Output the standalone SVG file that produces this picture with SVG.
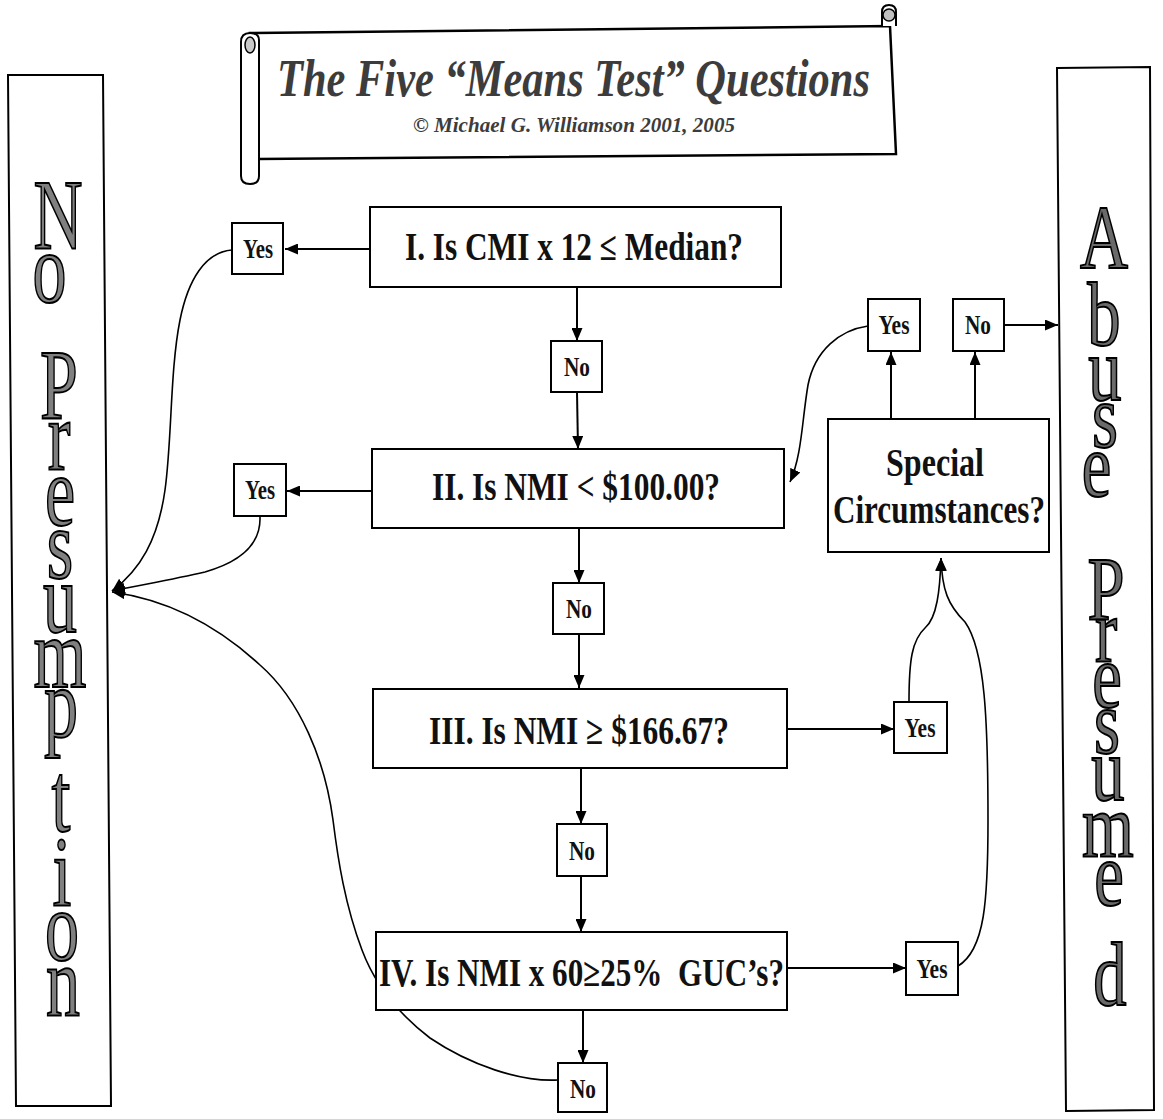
<svg xmlns="http://www.w3.org/2000/svg" width="1163" height="1119" viewBox="0 0 1163 1119">
<defs>
<marker id="ah" markerUnits="userSpaceOnUse" markerWidth="13" markerHeight="11" refX="13" refY="5.5" orient="auto">
<path d="M0,0 L13,5.5 L0,11 z" fill="#000"/>
</marker>
<style>
.box{fill:#fff;stroke:#000;stroke-width:2}
.q{font-family:"Liberation Serif","Times New Roman",serif;font-weight:bold;font-size:40px;fill:#111}
.lbl{font-family:"Liberation Serif","Times New Roman",serif;font-size:28px;fill:#111;text-anchor:middle;font-weight:bold}
.big{font-family:"Liberation Serif","Times New Roman",serif;font-size:100px;fill:#808080;stroke:#000;stroke-width:2;text-anchor:middle}
.bigr{font-family:"Liberation Serif","Times New Roman",serif;font-size:90px;fill:#6a6a6a;stroke:#000;stroke-width:2;text-anchor:middle}
.ln{fill:none;stroke:#000;stroke-width:2}
.cv{fill:none;stroke:#000;stroke-width:1.6}
.ttl{font-family:"Liberation Serif","Times New Roman",serif;font-weight:bold;font-style:italic;fill:#3c3c3c}
</style>
</defs>
<rect width="1163" height="1119" fill="#fff"/>

<g id="connectors">
<path class="ln" d="M372,249 L285,249" marker-end="url(#ah)"/>
<path class="ln" d="M372,491 L287,491" marker-end="url(#ah)"/>
<path class="ln" d="M577,287 L577,341" marker-end="url(#ah)"/>
<path class="ln" d="M577,392 L578,449" marker-end="url(#ah)"/>
<path class="ln" d="M579,528 L579,583" marker-end="url(#ah)"/>
<path class="ln" d="M579,634 L579,688" marker-end="url(#ah)"/>
<path class="ln" d="M581,768 L581,824" marker-end="url(#ah)"/>
<path class="ln" d="M581,876 L581,932" marker-end="url(#ah)"/>
<path class="ln" d="M583,1010 L583,1063" marker-end="url(#ah)"/>
<path class="ln" d="M788,729 L894,729" marker-end="url(#ah)"/>
<path class="ln" d="M787,968 L906,968" marker-end="url(#ah)"/>
<path class="ln" d="M891,419 L891,352" marker-end="url(#ah)"/>
<path class="ln" d="M975,419 L975,352" marker-end="url(#ah)"/>
<path class="ln" d="M1004,325 L1058,325" marker-end="url(#ah)"/>
<path class="cv" d="M232,250 C205,252 188,280 180,320 C170,370 172,440 165,490 C158,540 140,570 112,591" marker-end="url(#ah)"/>
<path class="cv" d="M260,517 C261,545 240,562 205,572 C170,580 140,585 112,591" marker-end="url(#ah)"/>
<path class="cv" d="M558,1080 C520,1082 470,1065 430,1038 C400,1015 375,985 362,950 C345,905 338,860 333,820 C325,760 300,700 260,665 C220,628 170,600 112,592" marker-end="url(#ah)"/>
<path class="cv" d="M868,326 C840,330 815,350 808,385 C802,420 802,455 790,482" marker-end="url(#ah)"/>
<path class="cv" d="M909,702 C909,660 912,640 925,628 C937,618 940,590 941,558" marker-end="url(#ah)"/>
<path class="cv" d="M958,966 C985,950 988,900 988,820 C988,720 985,650 965,622 C948,605 942,590 941,558" marker-end="url(#ah)"/>
</g>

<g id="banner">
<polygon points="250,33 890,26 896,154 258,159" fill="#fff" stroke="#000" stroke-width="2.5"/>
<path d="M259,40 L259,176 Q259,184 250,184 Q241,184 241,176 L241,42 Q241,33 250,33 Q259,33 259,40 Z" fill="#fff" stroke="#000" stroke-width="2"/>
<ellipse cx="250" cy="45" rx="5" ry="8" fill="#c8c8c8" stroke="#000" stroke-width="1.5"/>
<path d="M882,26 L882,12 Q882,5 889,5 Q896,5 896,12 L896,26" fill="#fff" stroke="#000" stroke-width="2"/>
<circle cx="889" cy="15" r="6" fill="#c0c0c0" stroke="#000" stroke-width="1.5"/>
<text class="ttl" x="277" y="96" font-size="52" textLength="593" lengthAdjust="spacingAndGlyphs">The Five “Means Test” Questions</text>
<text class="ttl" x="413" y="132" font-size="21" textLength="322" lengthAdjust="spacingAndGlyphs" fill="#111">© Michael G. Williamson 2001, 2005</text>
</g>

<g id="no-presumption">
<polygon points="8,75 103,75 111,1106 16,1106" fill="#fff" stroke="#000" stroke-width="2"/>
<text class="big" transform="scale(0.68,1)"><tspan x="85.3" y="248">N</tspan><tspan x="85.3" y="302">o</tspan> <tspan x="86.8" y="418">P</tspan><tspan x="86.8" y="470">r</tspan><tspan x="88.2" y="525">e</tspan><tspan x="88.2" y="578">s</tspan><tspan x="88.2" y="632">u</tspan><tspan x="88.2" y="687">m</tspan><tspan x="89.7" y="737">p</tspan><tspan x="89.7" y="831">t</tspan><tspan x="91.2" y="905">i</tspan><tspan x="91.2" y="960">o</tspan><tspan x="92.6" y="1015">n</tspan></text>
</g>

<g id="abuse-presumed">
<polygon points="1057,68 1150,67 1154,1110 1066,1111" fill="#fff" stroke="#000" stroke-width="2"/>
<text class="bigr" transform="scale(0.74,1)"><tspan x="1491.9" y="268">A</tspan><tspan x="1491.9" y="345">b</tspan><tspan x="1493.2" y="400">u</tspan><tspan x="1493.2" y="447">s</tspan><tspan x="1493.2" y="496">e</tspan> <tspan x="1494.6" y="620">P</tspan><tspan x="1494.6" y="662">r</tspan><tspan x="1495.9" y="707">e</tspan><tspan x="1495.9" y="753">s</tspan><tspan x="1497.3" y="800">u</tspan><tspan x="1497.3" y="857">m</tspan><tspan x="1498.6" y="905">e</tspan><tspan x="1500" y="1005">d</tspan></text>
</g>

<g id="q1">
<rect class="box" x="370" y="207" width="411" height="80"/>
<text class="q" x="405" y="260" textLength="338" lengthAdjust="spacingAndGlyphs">I. Is CMI x 12 ≤ Median?</text>
</g>
<g id="q2">
<rect class="box" x="372" y="449" width="412" height="79"/>
<text class="q" x="432" y="500" textLength="288" lengthAdjust="spacingAndGlyphs">II. Is NMI &lt; $100.00?</text>
</g>
<g id="q3">
<rect class="box" x="373" y="689" width="414" height="79"/>
<text class="q" x="429" y="744" textLength="300" lengthAdjust="spacingAndGlyphs">III. Is NMI ≥ $166.67?</text>
</g>
<g id="q4">
<rect class="box" x="376" y="932" width="411" height="78"/>
<text class="q" x="379" y="986" textLength="405" lengthAdjust="spacingAndGlyphs" xml:space="preserve">IV. Is NMI x 60≥25%  GUC’s?</text>
</g>
<g id="special">
<rect class="box" x="828" y="419" width="221" height="133"/>
<text class="q" x="935" y="476" font-size="35" text-anchor="middle" textLength="98" lengthAdjust="spacingAndGlyphs">Special</text>
<text class="q" x="833" y="523" font-size="35" textLength="212" lengthAdjust="spacingAndGlyphs">Circumstances?</text>
</g>

<g id="yes1"><rect class="box" x="232" y="223" width="51" height="51"/><text class="lbl" x="258" y="258" textLength="30" lengthAdjust="spacingAndGlyphs">Yes</text></g>
<g id="yes2"><rect class="box" x="234" y="464" width="52" height="52"/><text class="lbl" x="260" y="499" textLength="30" lengthAdjust="spacingAndGlyphs">Yes</text></g>
<g id="no1"><rect class="box" x="551" y="341" width="51" height="51"/><text class="lbl" x="577" y="376" textLength="26" lengthAdjust="spacingAndGlyphs">No</text></g>
<g id="no2"><rect class="box" x="553" y="583" width="51" height="51"/><text class="lbl" x="579" y="618" textLength="26" lengthAdjust="spacingAndGlyphs">No</text></g>
<g id="no3"><rect class="box" x="557" y="824" width="50" height="52"/><text class="lbl" x="582" y="860" textLength="26" lengthAdjust="spacingAndGlyphs">No</text></g>
<g id="no4"><rect class="box" x="558" y="1063" width="49" height="49"/><text class="lbl" x="583" y="1098" textLength="26" lengthAdjust="spacingAndGlyphs">No</text></g>
<g id="yes3"><rect class="box" x="894" y="702" width="53" height="51"/><text class="lbl" x="920" y="737" textLength="31" lengthAdjust="spacingAndGlyphs">Yes</text></g>
<g id="yes4"><rect class="box" x="906" y="942" width="52" height="53"/><text class="lbl" x="932" y="978" textLength="31" lengthAdjust="spacingAndGlyphs">Yes</text></g>
<g id="yes5"><rect class="box" x="868" y="299" width="52" height="52"/><text class="lbl" x="894" y="334" textLength="31" lengthAdjust="spacingAndGlyphs">Yes</text></g>
<g id="no5"><rect class="box" x="953" y="299" width="51" height="52"/><text class="lbl" x="978" y="334" textLength="26" lengthAdjust="spacingAndGlyphs">No</text></g>
</svg>
